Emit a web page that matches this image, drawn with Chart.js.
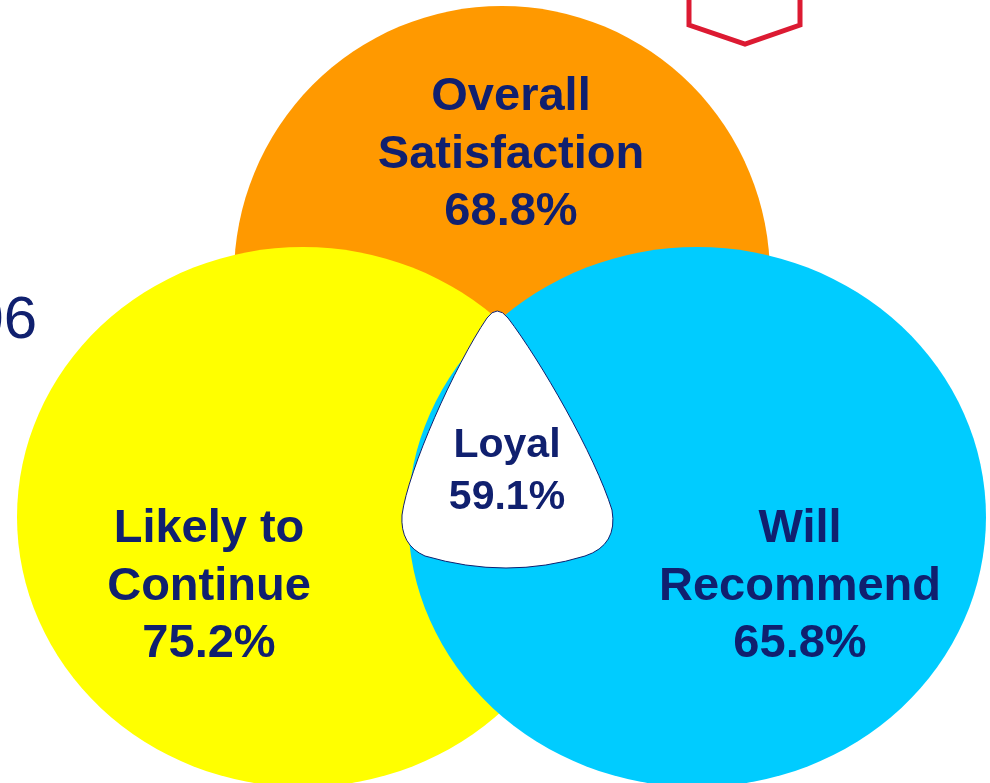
<!DOCTYPE html>
<html>
<head>
<meta charset="utf-8">
<script src="https://cdn.jsdelivr.net/npm/chart.js@4/dist/chart.umd.min.js"></script>
<style>
    html, body { margin: 0; padding: 0; background: #fff; overflow: hidden; }
    canvas { display: block; }
</style>
</head>
<body>
<canvas id="grafico" width="990" height="783"></canvas>
<script>
// dados do diagrama
const conjuntos = ['Overall Satisfaction', 'Likely to Continue', 'Will Recommend'];
const rotulos = [['Overall', 'Satisfaction'], ['Likely to', 'Continue'], ['Will', 'Recommend']];
const percentuais = [68.8, 75.2, 65.8];
const nucleoNome = 'Loyal';
const nucleoPercentual = 59.1;

// layout em unidades da escala (0-990 x 0-783)
const centros = [[502, 276], [303, 517], [697, 517]];
const raios = [[268, 270], [286, 270], [289, 270]];
const cores = ['#ff9900', '#ffff00', '#00ccff'];
const posTexto = [[511, 110], [209, 542], [800, 542]];
const azul = '#10206f';

document.addEventListener('DOMContentLoaded', function() {
    const ctxGrafico = document.getElementById('grafico').getContext('2d');

    // plugin que desenha as elipses, o nucleo e os textos
    const vennPlugin = {
        id: 'venn',
        afterDatasetsDraw(chart) {
            const ctx = chart.ctx;
            const px = v => chart.scales.x.getPixelForValue(v);
            const py = v => chart.scales.y.getPixelForValue(v);
            const meta = chart.getDatasetMeta(0);

            ctx.save();

            // elipses (laranja, amarela, azul)
            meta.data.forEach((pt, i) => {
                const rx = Math.abs(px(centros[i][0] + raios[i][0]) - pt.x);
                const ry = Math.abs(py(centros[i][1] + raios[i][1]) - pt.y);
                ctx.beginPath();
                ctx.ellipse(pt.x, pt.y, rx, ry, 0, 0, Math.PI * 2);
                ctx.fillStyle = cores[i];
                ctx.fill();
            });

            // nucleo "Loyal" (triangulo arredondado)
            ctx.beginPath();
            ctx.moveTo(px(487), py(318));
            ctx.quadraticCurveTo(px(497), py(304), px(508), py(318));
            ctx.bezierCurveTo(px(540), py(360), px(595), py(455), px(612), py(510));
            ctx.quadraticCurveTo(px(618), py(545), px(585), py(556));
            ctx.quadraticCurveTo(px(507), py(580), px(425), py(556));
            ctx.quadraticCurveTo(px(400), py(545), px(402), py(515));
            ctx.bezierCurveTo(px(408), py(470), px(455), py(365), px(487), py(318));
            ctx.closePath();
            ctx.fillStyle = '#ffffff';
            ctx.fill();
            ctx.lineWidth = 1;
            ctx.strokeStyle = azul;
            ctx.stroke();

            // textos dos conjuntos
            ctx.fillStyle = azul;
            ctx.textAlign = 'center';
            ctx.textBaseline = 'alphabetic';
            ctx.font = 'bold 47px "Liberation Sans", Arial, sans-serif';
            rotulos.forEach((linhas, i) => {
                const textos = linhas.concat([percentuais[i].toFixed(1) + '%']);
                textos.forEach((t, j) => {
                    ctx.fillText(t, px(posTexto[i][0]), py(posTexto[i][1] + j * 57.5));
                });
            });

            // texto do nucleo
            ctx.font = 'bold 41px "Liberation Sans", Arial, sans-serif';
            ctx.fillText(nucleoNome, px(507), py(457));
            ctx.fillText(nucleoPercentual.toFixed(1) + '%', px(507), py(509));

            // pedaco do titulo cortado na esquerda
            ctx.textAlign = 'right';
            ctx.font = '60px "Liberation Sans", Arial, sans-serif';
            ctx.fillText('2006', px(37), py(338));

            // hexagono vermelho no topo
            ctx.beginPath();
            ctx.moveTo(px(689), py(-20));
            ctx.lineTo(px(689), py(25));
            ctx.lineTo(px(745), py(44));
            ctx.lineTo(px(800), py(25));
            ctx.lineTo(px(800), py(-20));
            ctx.lineWidth = 5;
            ctx.lineJoin = 'miter';
            ctx.strokeStyle = '#dc1a32';
            ctx.stroke();

            ctx.restore();
        }
    };

    new Chart(ctxGrafico, {
        type: 'scatter',
        data: {
            datasets: [{
                label: 'Conjuntos',
                data: centros.map((c, i) => ({ x: c[0], y: c[1], nome: conjuntos[i] })),
                pointRadius: 0,
                pointHoverRadius: 0
            }]
        },
        options: {
            responsive: false,
            devicePixelRatio: 1,
            animation: false,
            layout: { padding: 0 },
            scales: {
                x: { type: 'linear', min: 0, max: 990, display: false },
                y: { type: 'linear', min: 0, max: 783, reverse: true, display: false }
            },
            plugins: {
                legend: { display: false },
                tooltip: { enabled: false }
            }
        },
        plugins: [vennPlugin]
    });
});
</script>
</body>
</html>
